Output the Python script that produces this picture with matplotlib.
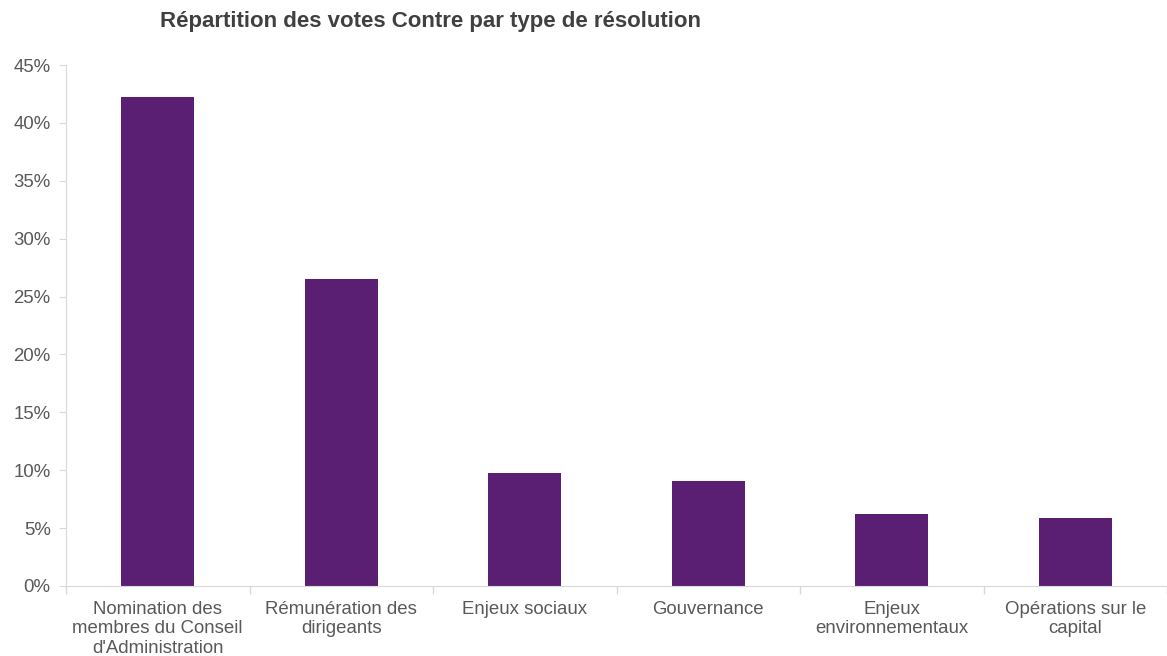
import numpy as np
import matplotlib.pyplot as plt
from matplotlib.ticker import PercentFormatter, FixedLocator

plt.rcParams['font.family'] = ['Liberation Sans', 'DejaVu Sans']

categories = ["Nomination des\nmembres du Conseil\nd'Administration",
              "Rémunération des\ndirigeants",
              "Enjeux sociaux",
              "Gouvernance",
              "Enjeux\nenvironnementaux",
              "Opérations sur le\ncapital"]
votes_contre = [42.2, 26.5, 9.8, 9.1, 6.2, 5.85]

fig = plt.figure(figsize=(11.67, 6.56), dpi=100)
ax = fig.add_axes([66/1167, 1 - 586/656, 1 - 66/1167, (586 - 65)/656])

x = np.arange(len(categories))
ax.bar(x, votes_contre, width=0.4, color='#5a1e72', zorder=2)

ax.set_xlim(-0.5, len(categories) - 0.5)
ax.set_ylim(0, 45)
ax.set_yticks(np.arange(0, 46, 5))
ax.yaxis.set_major_formatter(PercentFormatter(decimals=0))

# etiquettes centrées, traits aux limites des catégories
ax.set_xticks(x)
ax.set_xticklabels(categories)
ax.xaxis.set_minor_locator(FixedLocator(np.arange(-0.5, len(categories), 1)))
ax.tick_params(axis='x', which='major', length=0, pad=10.5, labelsize=13.4, labelcolor='#595959')
ax.tick_params(axis='x', which='minor', length=6, color='#d9d9d9', width=1)
ax.tick_params(axis='y', length=5, color='#d9d9d9', labelsize=13.4, labelcolor='#595959', pad=6)

for s in ['top', 'right']:
    ax.spines[s].set_visible(False)
for s in ['left', 'bottom']:
    ax.spines[s].set_color('#d9d9d9')

fig.text(430/1167, 1 - 21/656, 'Répartition des votes Contre par type de résolution',
         ha='center', va='center', fontsize=16, fontweight='bold', color='#404040')

fig.savefig('out.png', dpi=100)
